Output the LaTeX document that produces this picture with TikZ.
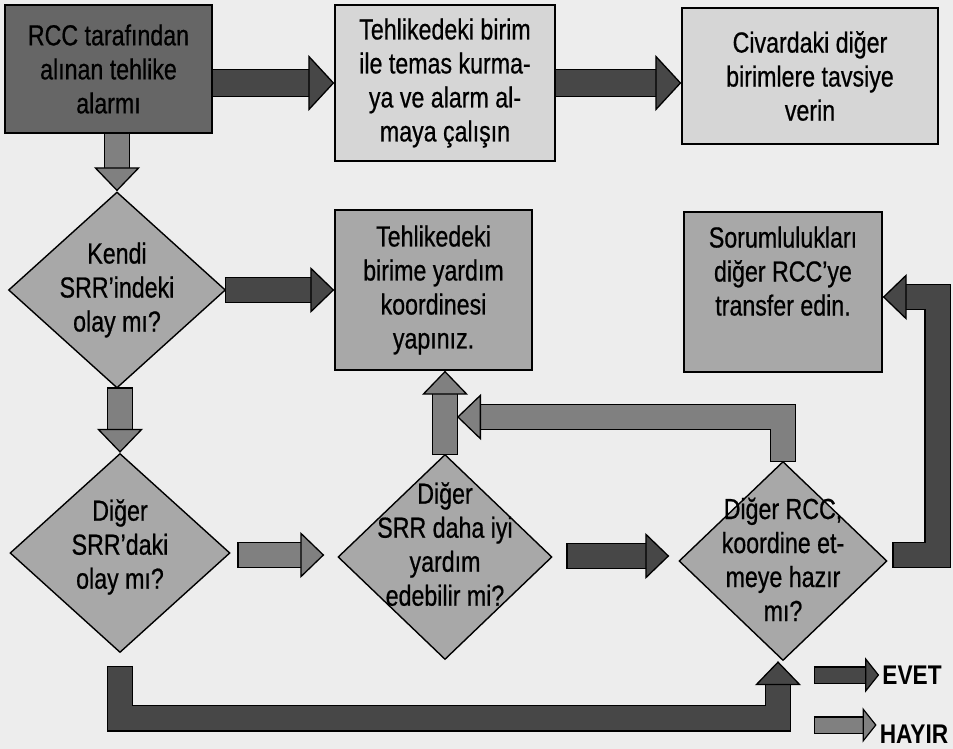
\documentclass[tikz,border=0pt]{standalone}
\usepackage{fontspec}
\setmainfont{Liberation Sans}[FakeStretch=0.8, FakeBold=0.6]
\newfontfamily\keyfont{Liberation Sans}[FakeStretch=0.84]
\usetikzlibrary{arrows.meta,shapes.geometric,calc}

\definecolor{bgc}{gray}{0.93}
\definecolor{evetc}{gray}{0.28}
\definecolor{hayirc}{gray}{0.50}
\definecolor{startc}{gray}{0.40}
\definecolor{infoc}{gray}{0.84}
\definecolor{stepc}{gray}{0.66}

\tikzset{
  txt/.style={font=\fontsize{29}{34}\selectfont, align=center, text=black,
    draw=black, line width=1.4pt, inner sep=0pt},
  box/.style={txt, rectangle},
  % the text may poke past the diamond's sides, so the size is fixed by the minimum
  ask/.style={txt, diamond, fill=stepc, inner sep=-30pt},
  % block arrow: grey shaft with a black rim, filled head
  flow/.style={draw=#1, line width=24pt, line join=miter,
    preaction={draw=black, line width=26.6pt, shorten >=20pt, shorten <=-1.3pt, -},
    -{Triangle[length=24pt, width=46pt, line width=1.3pt, color=black, fill=#1]}},
  bigflow/.style={draw=#1, line width=26pt, line join=miter,
    preaction={draw=black, line width=28.6pt, shorten >=22pt, shorten <=-1.3pt, -},
    -{Triangle[length=26pt, width=56pt, line width=1.3pt, color=black, fill=#1]}},
  keyflow/.style={draw=#1, line width=15pt, line join=miter,
    preaction={draw=black, line width=17.4pt, shorten >=11pt, shorten <=-1.2pt, -},
    -{Triangle[length=14pt, width=35pt, line width=1.2pt, color=black, fill=#1]}},
  keytext/.style={font=\keyfont\bfseries\fontsize{27}{30}\selectfont, inner sep=3pt, text=black},
}

\begin{document}
\begin{tikzpicture}[x=1pt, y=-1pt]
\useasboundingbox (0,0) rectangle (953,749);
\fill[bgc] (0,0) rectangle (953,749);

% top row
\node[box, fill=startc, minimum width=207pt, minimum height=128pt] (A) at (108.5,69)
  {RCC tarafından\\alınan tehlike\\alarmı};
\node[box, fill=infoc, minimum width=220pt, minimum height=156pt] (B) at (445,83)
  {Tehlikedeki birim\\ile temas kurma-\\ya ve alarm al-\\maya çalışın};
\node[box, fill=infoc, minimum width=256pt, minimum height=136pt] (C) at (810,76)
  {Civardaki diğer\\birimlere tavsiye\\verin};

% middle row
\node[ask, minimum width=217pt, minimum height=196pt] (D1) at (117,290)
  {Kendi\\SRR’indeki\\olay mı?};
\node[box, fill=stepc, minimum width=197pt, minimum height=160pt] (D) at (433.5,290)
  {Tehlikedeki\\birime yardım\\koordinesi\\yapınız.};
\node[box, fill=stepc, minimum width=198pt, minimum height=160pt] (E) at (783,292)
  {Sorumlulukları\\diğer RCC’ye\\transfer edin.\\[8pt]\mbox{}};

% bottom row
\node[ask, minimum width=220pt, minimum height=199pt] (D2) at (120,553)
  {Diğer\\SRR’daki\\olay mı?\\[-16pt]\mbox{}};
\node[ask, minimum width=214pt, minimum height=205pt] (D3) at (445,557)
  {Diğer\\SRR daha iyi\\yardım\\edebilir mi?\\[-8pt]\mbox{}};
\node[ask, minimum width=208pt, minimum height=199pt] (D4) at (783,561)
  {\mbox{}\\[-16pt]Diğer RCC,\\koordine et-\\meye hazır\\mı?};

% legend
\node[keytext] (yes) at (912,675) {EVET};
\node[keytext] (no) at (914,734) {HAYIR};
\coordinate (yesfrom) at (815,675);
\coordinate (nofrom) at (815,725);

% connectors
\draw[bigflow=evetc] (A.east |- B.west) -- (B.west);
\draw[bigflow=evetc] (B.east) -- (C.west |- B.east);
\draw[flow=hayirc] (D1.north |- A.south) -- (D1.north);
\draw[flow=evetc] (D1.east) -- (D.west |- D1.east);
\draw[flow=hayirc] (D2.north |- D1.south) -- (D2.north);
\draw[flow=hayirc] ($(D2.east |- D3.west)+(8,-2)$) -- ($(D3.west)+(-13,-2)$);
\draw[flow=hayirc] (D3.north) -- (D3.north |- D.south);
\coordinate (join) at (457,417);
\draw[flow=hayirc] (D4.north) |- (join);
\draw[flow=evetc] ($(D3.east |- D4.west)+(15,-5)$) -- ($(D4.west)+(-9,-5)$);
\draw[flow=evetc] ($(D4.east)+(6,-6)$) -| ($(E.east)+(55,5)$) -- ($(E.east)+(0,5)$);
\draw[flow=evetc] ($(D2.south)+(0,14)$) |- ($(D4.south)+(-5,57)$) -- ($(D4.south)+(-5,0)$);

\draw[keyflow=evetc] (yesfrom) -- (yes.west |- yesfrom);
\draw[keyflow=hayirc] (nofrom) -- (no.west |- nofrom);
\end{tikzpicture}
\end{document}
